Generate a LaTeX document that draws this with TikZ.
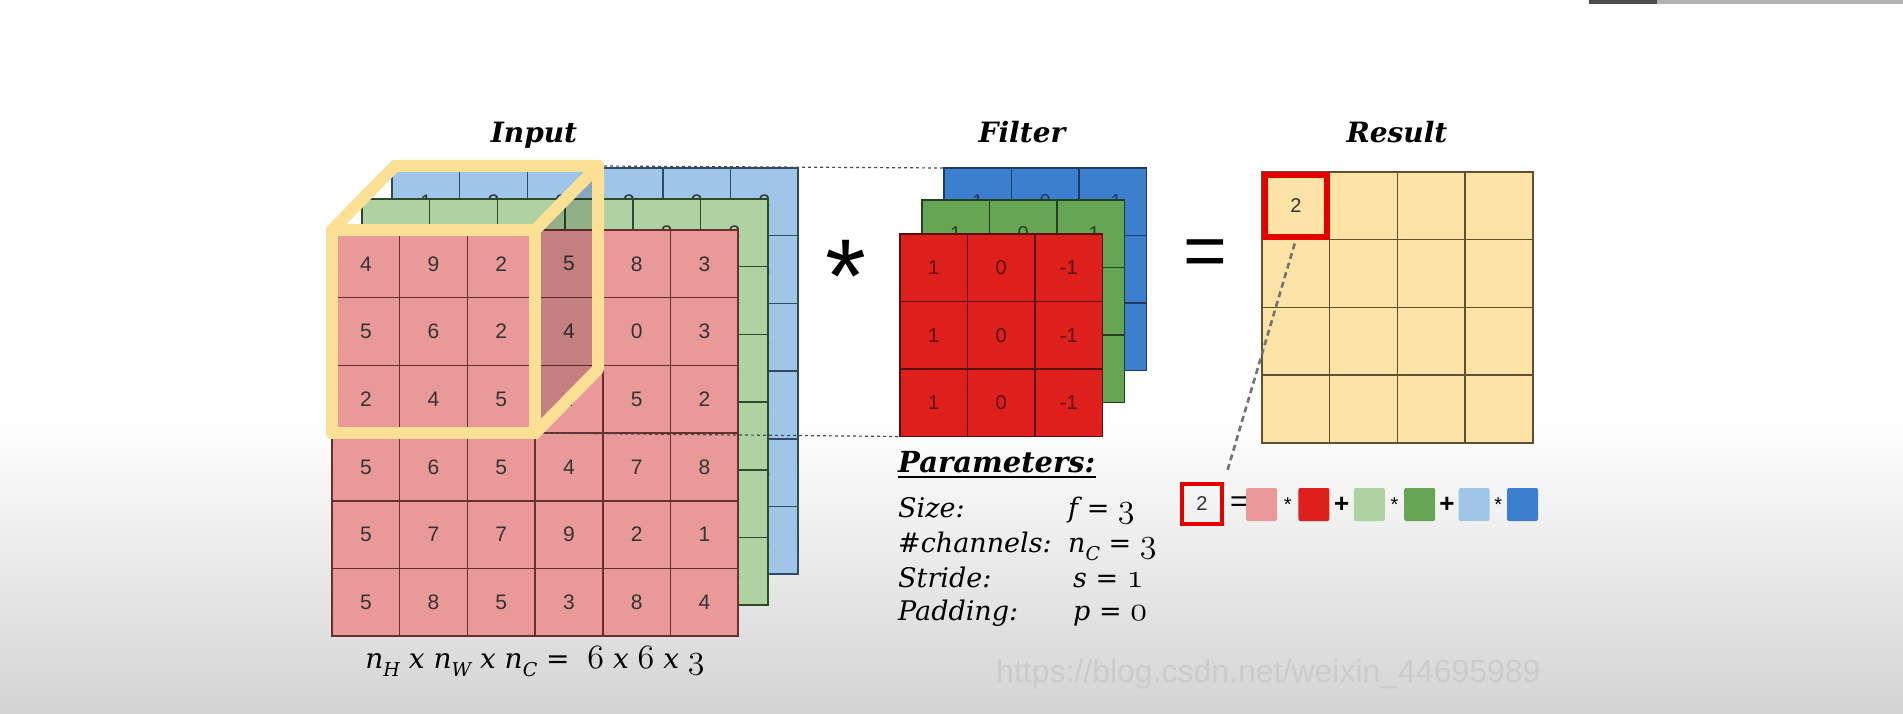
\documentclass[tikz,border=0pt]{standalone}
\usepackage{fontspec}
\setsansfont{Liberation Sans}
\newfontfamily\titlefont{DejaVu Serif}
\usetikzlibrary{positioning}
\font\osfbig=cmmi12 at 34pt
\newcommand\osf[1]{{\osfbig #1}}
\newcommand\lsub[1]{\raisebox{-.32em}{\fontsize{19}{19}\selectfont #1}}
\def\cs{67.7}
\def\fs{67.5}

\definecolor{inred}{HTML}{EA9999}
\definecolor{ingreen}{HTML}{AFD2A3}
\definecolor{inblue}{HTML}{9FC5E8}
\definecolor{inredline}{HTML}{6B2E2E}
\definecolor{ingreenline}{HTML}{2E4A2A}
\definecolor{inblueline}{HTML}{2F4A66}
\definecolor{fred}{HTML}{DE1F1B}
\definecolor{fgreen}{HTML}{65A553}
\definecolor{fblue}{HTML}{3C7FCF}
\definecolor{fredline}{HTML}{5A1010}
\definecolor{fgreenline}{HTML}{234020}
\definecolor{fblueline}{HTML}{1E3A66}
\definecolor{resfill}{HTML}{FEE3A6}
\definecolor{resline}{HTML}{5E5030}
\definecolor{cubeyellow}{HTML}{FCE096}

\tikzset{
  incell/.style={draw, minimum size=67.7pt, inner sep=0pt, outer sep=0pt,
    line width=1.5pt, font=\sffamily\fontsize{21}{21}\selectfont, text=black!80},
  fcell/.style={draw, minimum size=67.5pt, inner sep=0pt, outer sep=0pt,
    line width=1.5pt, font=\sffamily\fontsize{20}{20}\selectfont},
  rescell/.style={draw=resline, fill=resfill, minimum size=67.7pt, inner sep=0pt,
    outer sep=0pt, line width=1.5pt},
  cubeframe/.style={cubeyellow, line width=12pt, line join=round, line cap=round},
  projline/.style={black!70, dashed, line width=1.2pt},
  linkline/.style={black!55, dash pattern=on 6pt off 4pt, line width=2.6pt},
  title/.style={anchor=base, font=\titlefont\bfseries\itshape\fontsize{28}{28}\selectfont},
  parname/.style={anchor=base west, inner sep=0pt, font=\titlefont\itshape\fontsize{27}{27}\selectfont},
  swatch/.style={minimum width=31pt, minimum height=33pt, inner sep=0pt, rounded corners=2pt},
  opsym/.style={inner sep=0pt, font=\sffamily\bfseries\fontsize{26}{26}\selectfont}
}

\begin{document}
\begin{tikzpicture}[x=1pt,y=-1pt]
% background
\useasboundingbox (0,0) rectangle (1903,714);
\fill[white] (0,0) rectangle (1903,714);
\shade[top color=white,bottom color=black!17] (0,420) rectangle (1903,714);
\fill[black!70] (1589,0) rectangle (1657,4);
\fill[black!30] (1657,0) rectangle (1903,4);

% input volume, back to front (hidden values left out)
\foreach \row [count=\r] in {{1,2,3,3,2,3},{{},{},{},{},{},3},{{},{},{},{},{},1},{{},{},{},{},{},2},{{},{},{},{},{},6},{{},{},{},{},{},2}}
  \foreach \v [count=\c] in \row
    \node[incell,fill=inblue,draw=inblueline] (inB-\r-\c) at ({392+(\c-.5)*\cs},{168+(\r-.5)*\cs}) {\v};
\foreach \row [count=\r] in {{1,2,4,2,2,3},{{},{},{},{},{},3},{{},{},{},{},{},2},{{},{},{},{},{},3},{{},{},{},{},{},1},{{},{},{},{},{},2}}
  \foreach \v [count=\c] in \row
    \node[incell,fill=ingreen,draw=ingreenline] (inG-\r-\c) at ({362+(\c-.5)*\cs},{199+(\r-.5)*\cs}) {\v};
\foreach \row [count=\r] in {{4,9,2,5,8,3},{5,6,2,4,0,3},{2,4,5,4,5,2},{5,6,5,4,7,8},{5,7,7,9,2,1},{5,8,5,3,8,4}}
  \foreach \v [count=\c] in \row
    \node[incell,fill=inred,draw=inredline] (inR-\r-\c) at ({332+(\c-.5)*\cs},{230+(\r-.5)*\cs}) {\v};

% filter volume
\foreach \row [count=\r] in {{1,0,-1},{{},{},{}},{{},{},{}}}
  \foreach \v [count=\c] in \row
    \node[fcell,fill=fblue,draw=fblueline,text=fblueline] (fB-\r-\c) at ({944+(\c-.5)*\fs},{168+(\r-.5)*\fs}) {\v};
\foreach \row [count=\r] in {{1,0,-1},{{},{},{}},{{},{},{}}}
  \foreach \v [count=\c] in \row
    \node[fcell,fill=fgreen,draw=fgreenline,text=fgreenline] (fG-\r-\c) at ({922+(\c-.5)*\fs},{200+(\r-.5)*\fs}) {\v};
\foreach \r in {1,2,3} {
  \foreach \v [count=\c] in {1,0,-1} {
    \node[fcell,fill=fred,draw=fredline,text=fredline] (fR-\r-\c) at ({900+(\c-.5)*\fs},{234+(\r-.5)*\fs}) {\v};
  }
}

% result grid
\foreach \r in {1,...,4}
  \foreach \c in {1,...,4}
    \node[rescell] (res-\r-\c) at ({1262+(\c-.5)*\cs},{172+(\r-.5)*\cs}) {};
\node[font=\sffamily\fontsize{20}{20}\selectfont,text=black!80] (resval) at (res-1-1) {2};
\draw[red!90!black,line width=6pt] ([shift={(3,-3)}]res-1-1.south west) rectangle ([shift={(-3,3)}]res-1-1.north east);

% receptive field cube
\coordinate (cFTL) at (inR-1-1.north west);
\coordinate (cFTR) at (inR-1-3.north east);
\coordinate (cFBR) at (inR-3-3.south east);
\coordinate (cBTL) at ([shift={(63,-64)}]cFTL);
\coordinate (cBTR) at ([shift={(63,-64)}]cFTR);
\coordinate (cBBR) at ([shift={(63,-64)}]cFBR);
\fill[black,opacity=.16] (cFTR) -- (cBTR) -- (cBBR) -- (cFBR) -- cycle;
\draw[projline] (cBTR) -- (fB-1-1.north west);
\draw[projline] (cFBR) -- (fR-3-1.south west);
\draw[cubeframe] (cFTL) rectangle (cFBR);
\draw[cubeframe] (cFTL) -- (cBTL) -- (cBTR) -- (cBBR) -- (cFBR);
\draw[cubeframe] (cFTR) -- (cBTR);

% titles and operators
\node[title] (ttlInput) at (534,143) {Input};
\node[title] (ttlFilter) at (1022,143) {Filter};
\node[title] (ttlResult) at (1397,143) {Result};
\node[anchor=base,inner sep=0pt,font=\sffamily\fontsize{105}{105}\selectfont] (conv) at (846,312) {*};
\node[anchor=base,inner sep=0pt,font=\sffamily\fontsize{75}{75}\selectfont] (eqbig) at (1205,276) {=};

% input size
\node[anchor=base,inner sep=0pt,font=\titlefont\itshape\fontsize{28}{28}\selectfont] (insize) at (535,668)
  {n\lsub{H} x n\lsub{W} x n\lsub{C} = \ \osf{6} x \osf{6} x \osf{3}};

% parameters
\node[parname,font=\titlefont\bfseries\itshape\fontsize{29}{29}\selectfont] (parhead) at (898,472) {Parameters:};
\draw[line width=2.4pt] ([yshift=-5pt]parhead.base west) -- ([yshift=-5pt]parhead.base east);
\node[parname] (parsize) at (898,517) {Size:};
\node[parname] (valsize) at (1068,517) {f = \osf{3}};
\node[parname] (parchan) at (898,552) {\#channels:};
\node[parname] (valchan) at (1068,552) {n\lsub{C} = \osf{3}};
\node[parname] (parstride) at (898,587) {Stride:};
\node[parname] (valstride) at (1073,587) {s = \osf{1}};
\node[parname] (parpad) at (898,620) {Padding:};
\node[parname] (valpad) at (1073,620) {p = \osf{0}};

% one output value as a sum of products
\node[draw=red!90!black,line width=4pt,minimum width=40pt,minimum height=40pt,inner sep=0pt,
  font=\sffamily\fontsize{20}{20}\selectfont,text=black!80] (sumval) at (1202,504) {2};
\node[swatch,fill=inred] (swInR) at (1261.5,504.5) {};
\node[swatch,fill=fred,right=21pt of swInR] (swFR) {};
\node[swatch,fill=ingreen,right=24pt of swFR] (swInG) {};
\node[swatch,fill=fgreen,right=19pt of swInG] (swFG) {};
\node[swatch,fill=inblue,right=23pt of swFG] (swInB) {};
\node[swatch,fill=fblue,right=17pt of swInB] (swFB) {};
\path (sumval) -- (swInR) node[midway,opsym,font=\sffamily\fontsize{30}{30}\selectfont,xshift=4pt] (eqsmall) {=};
\path (swInR) -- (swFR) node[midway,opsym,font=\sffamily\fontsize{20}{20}\selectfont] (mulA) {*};
\path (swFR) -- (swInG) node[midway,opsym] (addA) {+};
\path (swInG) -- (swFG) node[midway,opsym,font=\sffamily\fontsize{20}{20}\selectfont] (mulB) {*};
\path (swFG) -- (swInB) node[midway,opsym] (addB) {+};
\path (swInB) -- (swFB) node[midway,opsym,font=\sffamily\fontsize{20}{20}\selectfont] (mulC) {*};
\draw[linkline,shorten <=4pt,shorten >=10pt] (res-1-1.south) -- (sumval.north east);

% watermark
\node[anchor=base west,inner sep=0pt,font=\sffamily\fontsize{32}{32}\selectfont,text=black!20] (wmark) at (996,682)
  {https://blog.csdn.net/weixin\_44695989};
\end{tikzpicture}
\end{document}
